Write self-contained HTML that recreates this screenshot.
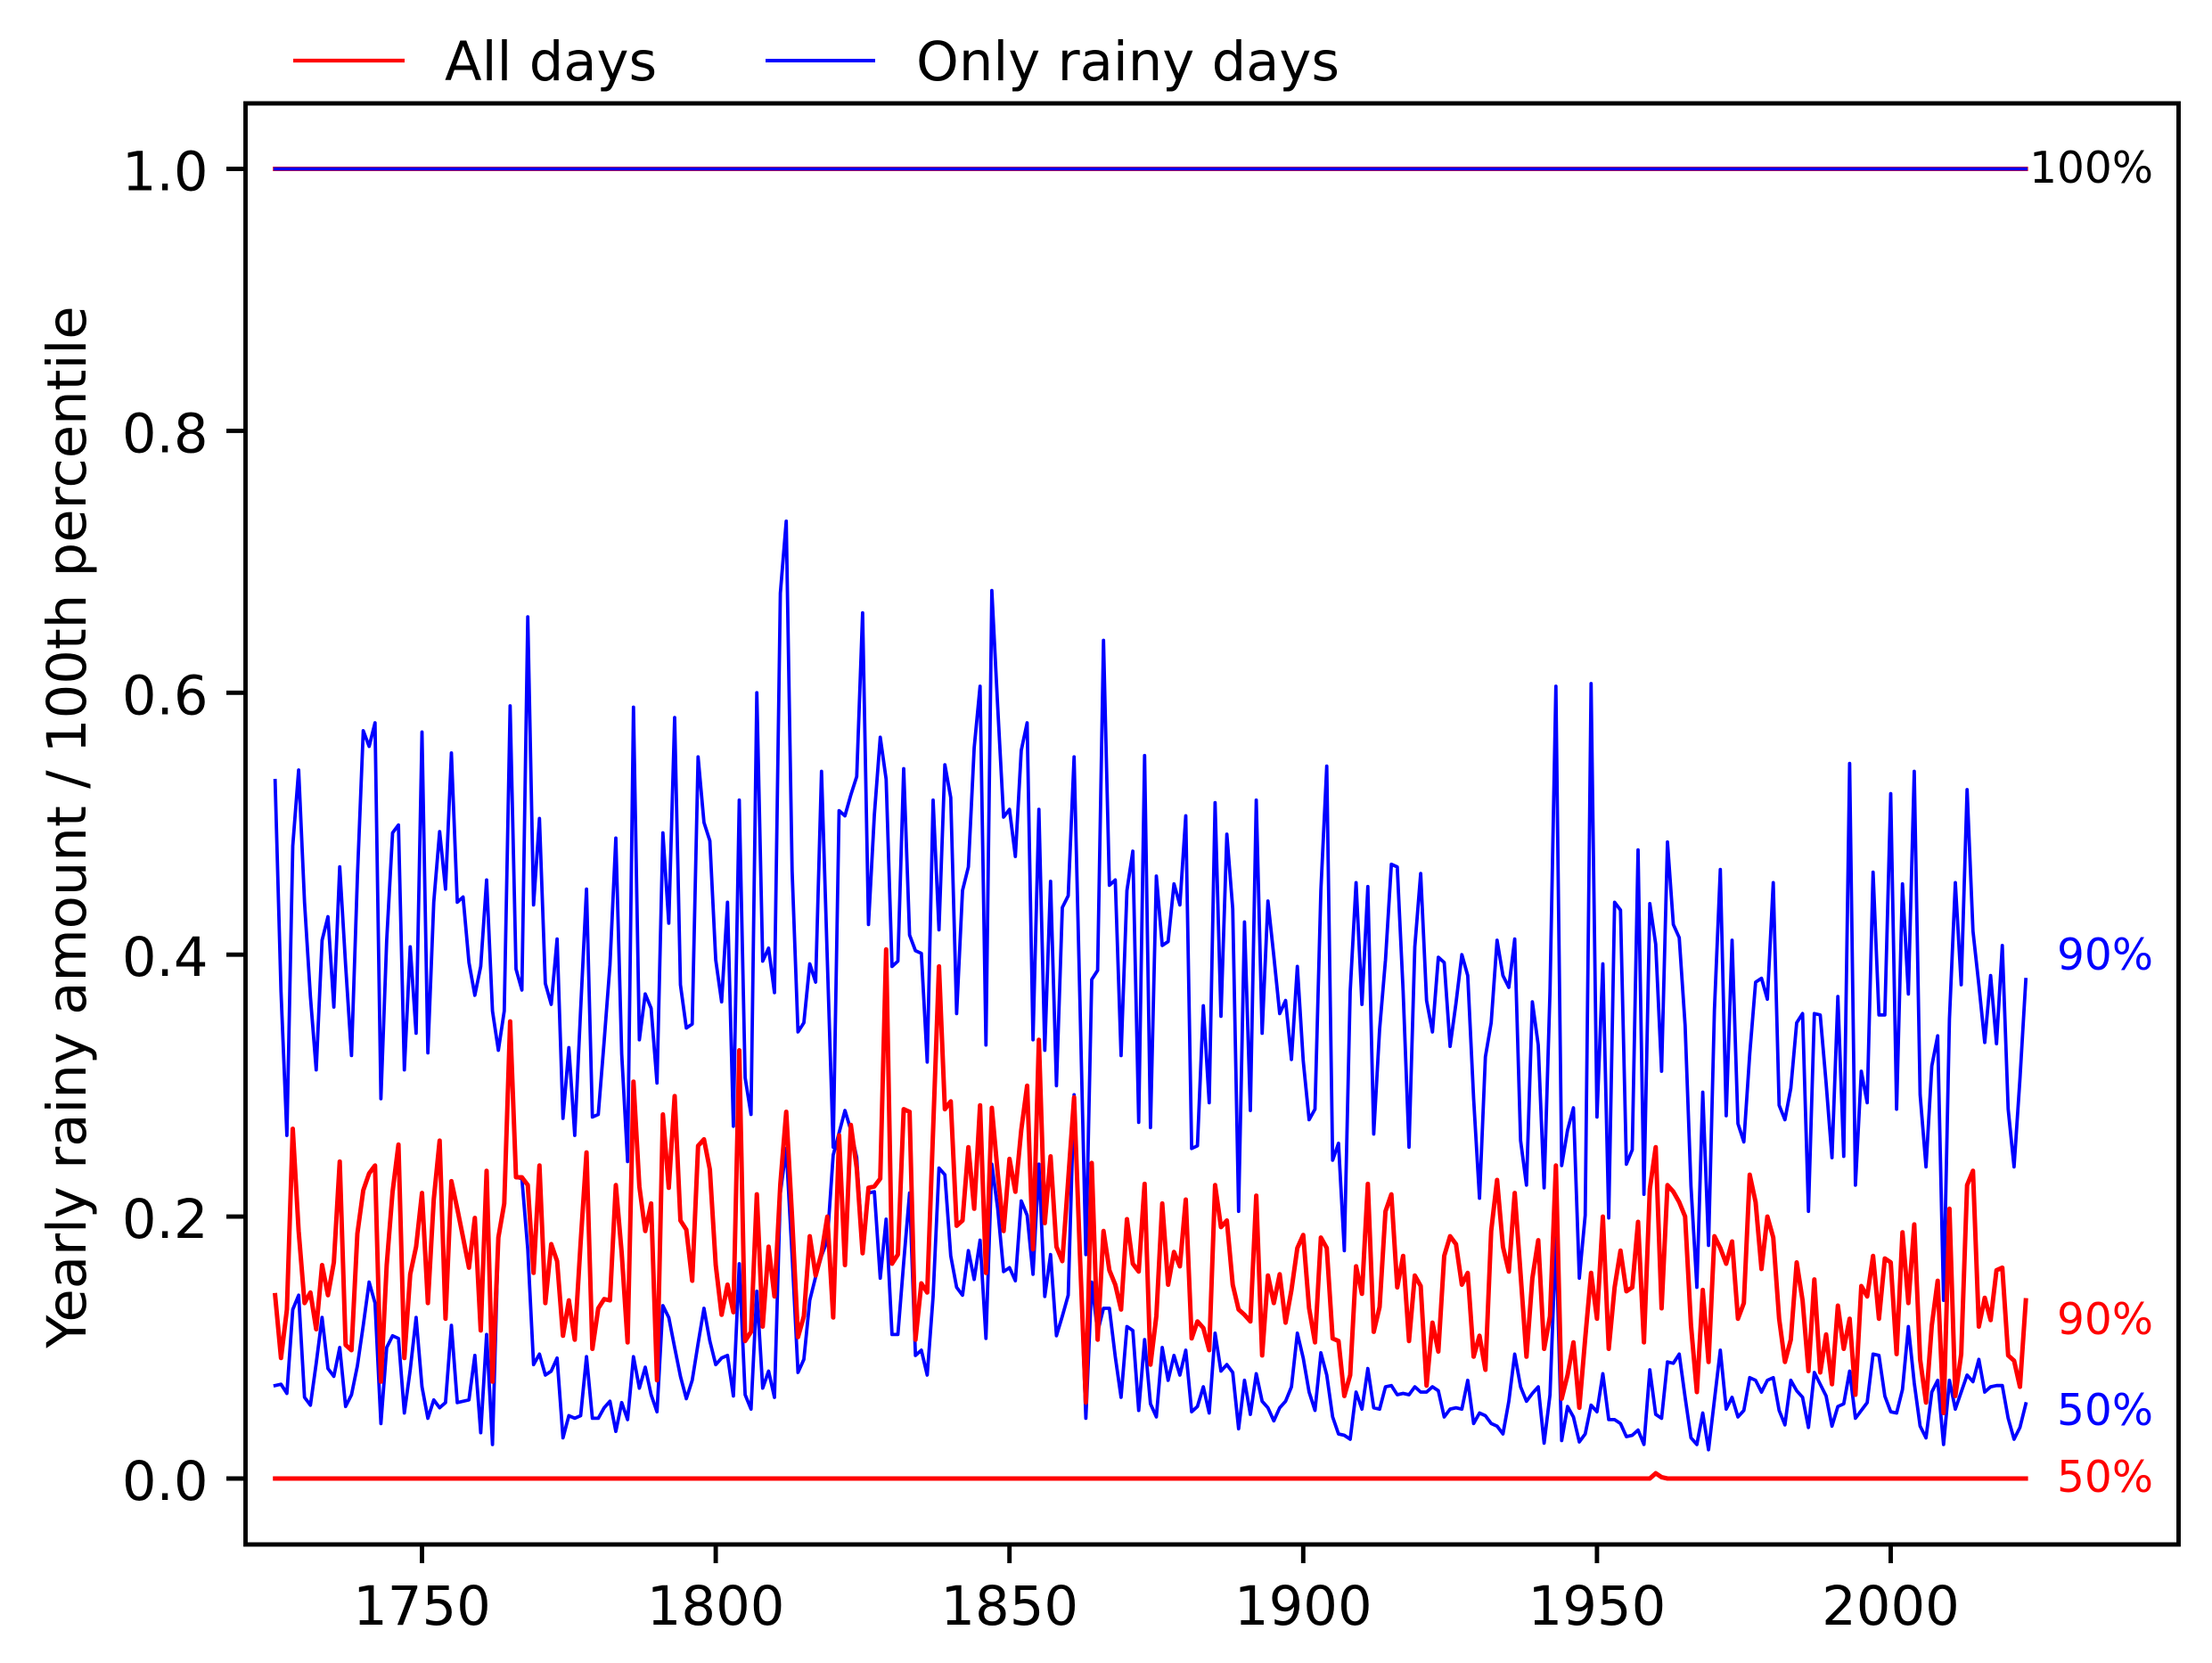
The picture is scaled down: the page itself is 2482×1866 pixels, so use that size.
<!DOCTYPE html>
<html lang="en">
<head>
<meta charset="utf-8">
<title>Yearly rainy amount relative to 100th percentile</title>
<style>
html,body{margin:0;padding:0;background:#fff;}
body{width:2482px;height:1866px;overflow:hidden;}
svg{display:block;font-family:"DejaVu Sans","Liberation Sans",sans-serif;}
</style>
</head>
<body>
<svg id="chart" xmlns="http://www.w3.org/2000/svg" width="2482" height="1866" viewBox="0 0 2482 1866">
  <rect x="0" y="0" width="2482" height="1866" fill="#ffffff"/>
  <g id="series"></g>
  <rect x="275.5" y="116" width="2169" height="1617" fill="none" stroke="#000" stroke-width="4.9"/>
  <g id="xaxis"></g>
  <g id="yaxis"></g>
  <text transform="translate(96,928) rotate(-90)" text-anchor="middle" font-size="60.8" fill="#000">Yearly rainy amount / 100th percentile</text>
  <g>
    <line x1="329" x2="454" y1="68" y2="68" stroke="#ff0000" stroke-width="4.2"/>
    <text x="499" y="90" font-size="60.8" fill="#000">All days</text>
    <line x1="859" x2="982" y1="68" y2="68" stroke="#0000ff" stroke-width="4"/>
    <text x="1028" y="90" font-size="60.8" fill="#000">Only rainy days</text>
  </g>
  <g>
    <text x="2416" y="205" text-anchor="end" font-size="48.6" fill="#000">100%</text>
    <text x="2416" y="1088" text-anchor="end" font-size="48.6" fill="#0000ff">90%</text>
    <text x="2416" y="1497" text-anchor="end" font-size="48.6" fill="#ff0000">90%</text>
    <text x="2416" y="1599" text-anchor="end" font-size="48.6" fill="#0000ff">50%</text>
    <text x="2416" y="1674" text-anchor="end" font-size="48.6" fill="#ff0000">50%</text>
  </g>
</svg>
<script>
const firstYear = 1725;
const xTickLabels = [1750, 1800, 1850, 1900, 1950, 2000];
const yTickLabels = ["0.0", "0.2", "0.4", "0.6", "0.8", "1.0"];

const rainy90 = [
.533,.372,.262,.483,.541,
.44,.368,.312,.411,.429,.36,.467,.392,.323,.459,
.571,.559,.577,.29,.411,.493,.499,.312,.406,.34,
.57,.325,.44,.494,.45,.554,.44,.444,.394,.369,
.391,.457,.357,.327,.357,.59,.389,.373,.658,.438,
.504,.378,.362,.412,.275,.329,.262,.358,.45,.276,
.278,.334,.392,.489,.324,.242,.589,.335,.37,.359,
.302,.493,.424,.581,.377,.344,.347,.551,.501,.487,
.396,.364,.44,.269,.518,.306,.278,.60,.395,.405,
.371,.676,.731,.464,.341,.348,.393,.379,.54,.396,
.253,.51,.506,.522,.536,.661,.423,.507,.566,.534,
.391,.395,.542,.415,.403,.401,.318,.518,.419,.545,
.52,.355,.449,.467,.558,.605,.331,.678,.589,.505,
.511,.475,.556,.577,.335,.511,.327,.456,.30,.436,
.445,.551,.363,.171,.381,.388,.64,.453,.457,.323,
.449,.479,.272,.552,.268,.46,.407,.41,.454,.438,
.506,.252,.254,.361,.287,.516,.353,.492,.435,.204,
.425,.281,.518,.34,.441,.399,.355,.365,.32,.391,
.319,.274,.282,.449,.544,.243,.256,.174,.372,.455,
.362,.452,.263,.343,.396,.469,.467,.372,.253,.406,
.462,.365,.341,.398,.394,.33,.363,.40,.384,.29,
.214,.322,.348,.411,.384,.375,.412,.258,.224,.364,
.331,.222,.372,.605,.239,.266,.283,.153,.201,.607,
.276,.393,.199,.44,.434,.24,.251,.48,.217,.439,
.408,.311,.486,.423,.413,.346,.223,.146,.295,.178,
.358,.465,.277,.411,.271,.257,.324,.379,.382,.366,
.455,.285,.274,.298,.348,.355,.204,.355,.354,.302,
.245,.368,.246,.546,.224,.311,.287,.463,.354,.354,
.523,.282,.454,.37,.54,.293,.238,.315,.338,.136,
.351,.455,.377,.526,.418,.377,.333,.384,.332,.407,
.282,.238,.305,.381];

const rainy50 = [
.071,.072,.065,.129,.14,
.062,.056,.088,.123,.084,.078,.1,.055,.064,.086,
.117,.15,.134,.042,.1,.109,.107,.05,.083,.123,
.07,.046,.06,.054,.058,.117,.058,.059,.06,.094,
.035,.11,.026,.184,.21,.349,.23,.229,.175,.087,
.095,.079,.082,.092,.031,.048,.046,.048,.093,.046,
.046,.054,.059,.036,.058,.045,.093,.069,.085,.064,
.051,.132,.123,.1,.078,.061,.075,.103,.13,.105,
.087,.092,.094,.063,.164,.064,.053,.143,.069,.082,
.062,.218,.252,.17,.081,.091,.136,.154,.17,.182,
.247,.264,.281,.266,.245,.175,.218,.219,.153,.198,
.11,.11,.165,.218,.094,.098,.079,.139,.237,.232,
.17,.146,.14,.174,.152,.182,.107,.24,.206,.158,
.161,.151,.212,.201,.156,.24,.139,.171,.109,.124,
.14,.293,.17,.046,.15,.112,.13,.13,.093,.062,
.116,.113,.052,.106,.057,.047,.1,.075,.094,.079,
.098,.051,.055,.07,.05,.111,.082,.087,.081,.038,
.075,.049,.08,.059,.054,.044,.054,.059,.07,.111,
.092,.066,.052,.096,.079,.047,.034,.033,.03,.066,
.053,.084,.054,.053,.07,.071,.064,.065,.064,.07,
.066,.066,.07,.067,.047,.053,.054,.053,.075,.042,
.05,.048,.042,.04,.034,.059,.095,.07,.059,.065,
.07,.027,.064,.184,.029,.055,.047,.028,.034,.056,
.051,.08,.045,.045,.042,.032,.033,.037,.026,.083,
.049,.046,.089,.088,.095,.062,.031,.026,.05,.022,
.06,.098,.053,.062,.047,.052,.077,.075,.066,.075,
.077,.052,.041,.075,.067,.062,.039,.081,.072,.063,
.04,.055,.057,.082,.046,.052,.058,.095,.094,.063,
.051,.05,.068,.116,.073,.04,.031,.066,.075,.026,
.075,.053,.066,.079,.074,.091,.066,.07,.071,.071,
.046,.03,.039,.057];

const allDays90 = [
.14,.092,.129,.267,.189,
.134,.142,.114,.163,.14,.165,.242,.102,.098,.187,
.22,.233,.239,.074,.163,.219,.255,.092,.156,.177,
.218,.134,.213,.258,.122,.227,.206,.184,.161,.199,
.113,.235,.074,.184,.21,.349,.23,.23,.224,.157,
.239,.134,.179,.166,.109,.136,.106,.18,.249,.099,
.13,.137,.136,.224,.172,.104,.303,.223,.189,.21,
.075,.278,.222,.292,.197,.19,.151,.254,.259,.236,
.163,.125,.148,.127,.327,.105,.112,.217,.116,.177,
.139,.225,.28,.199,.108,.124,.185,.155,.172,.2,
.123,.262,.163,.27,.237,.172,.222,.223,.229,.404,
.164,.171,.282,.28,.106,.149,.142,.266,.391,.282,
.288,.193,.197,.253,.206,.285,.157,.283,.233,.189,
.244,.219,.266,.30,.175,.335,.195,.246,.177,.166,
.228,.291,.17,.058,.241,.106,.189,.159,.148,.129,
.198,.164,.158,.225,.087,.124,.21,.148,.173,.162,
.213,.107,.12,.115,.098,.224,.192,.197,.148,.129,
.125,.12,.216,.094,.155,.134,.156,.119,.144,.176,
.186,.13,.104,.184,.176,.107,.105,.063,.079,.162,
.141,.225,.112,.131,.204,.217,.146,.17,.105,.155,
.147,.071,.119,.097,.17,.185,.179,.148,.157,.093,
.109,.083,.189,.228,.177,.158,.218,.156,.093,.153,
.182,.099,.124,.239,.061,.079,.104,.054,.107,.157,
.122,.2,.099,.146,.174,.143,.146,.196,.104,.221,
.253,.13,.224,.219,.211,.2,.117,.066,.144,.089,
.185,.176,.164,.181,.122,.134,.232,.211,.16,.2,
.184,.122,.089,.106,.165,.136,.082,.152,.081,.11,
.072,.132,.099,.122,.064,.147,.139,.17,.122,.168,
.165,.095,.188,.134,.194,.091,.058,.117,.151,.05,
.206,.063,.095,.224,.235,.116,.138,.121,.159,.161,
.094,.09,.07,.136];

const allDays50 = [
0,0,0,0,0,
0,0,0,0,0,0,0,0,0,0,
0,0,0,0,0,0,0,0,0,0,
0,0,0,0,0,0,0,0,0,0,
0,0,0,0,0,0,0,0,0,0,
0,0,0,0,0,0,0,0,0,0,
0,0,0,0,0,0,0,0,0,0,
0,0,0,0,0,0,0,0,0,0,
0,0,0,0,0,0,0,0,0,0,
0,0,0,0,0,0,0,0,0,0,
0,0,0,0,0,0,0,0,0,0,
0,0,0,0,0,0,0,0,0,0,
0,0,0,0,0,0,0,0,0,0,
0,0,0,0,0,0,0,0,0,0,
0,0,0,0,0,0,0,0,0,0,
0,0,0,0,0,0,0,0,0,0,
0,0,0,0,0,0,0,0,0,0,
0,0,0,0,0,0,0,0,0,0,
0,0,0,0,0,0,0,0,0,0,
0,0,0,0,0,0,0,0,0,0,
0,0,0,0,0,0,0,0,0,0,
0,0,0,0,0,0,0,0,0,0,
0,0,0,0,0,0,0,0,0,0,
0,0,0,0,0,0,0,0,0,0,
.004,.001,0,0,0,0,0,0,0,0,
0,0,0,0,0,0,0,0,0,0,
0,0,0,0,0,0,0,0,0,0,
0,0,0,0,0,0,0,0,0,0,
0,0,0,0,0,0,0,0,0,0,
0,0,0,0,0,0,0,0,0,0,
0,0,0,0];

const allDays100 = [
1,1,1,1,1,
1,1,1,1,1,1,1,1,1,1,
1,1,1,1,1,1,1,1,1,1,
1,1,1,1,1,1,1,1,1,1,
1,1,1,1,1,1,1,1,1,1,
1,1,1,1,1,1,1,1,1,1,
1,1,1,1,1,1,1,1,1,1,
1,1,1,1,1,1,1,1,1,1,
1,1,1,1,1,1,1,1,1,1,
1,1,1,1,1,1,1,1,1,1,
1,1,1,1,1,1,1,1,1,1,
1,1,1,1,1,1,1,1,1,1,
1,1,1,1,1,1,1,1,1,1,
1,1,1,1,1,1,1,1,1,1,
1,1,1,1,1,1,1,1,1,1,
1,1,1,1,1,1,1,1,1,1,
1,1,1,1,1,1,1,1,1,1,
1,1,1,1,1,1,1,1,1,1,
1,1,1,1,1,1,1,1,1,1,
1,1,1,1,1,1,1,1,1,1,
1,1,1,1,1,1,1,1,1,1,
1,1,1,1,1,1,1,1,1,1,
1,1,1,1,1,1,1,1,1,1,
1,1,1,1,1,1,1,1,1,1,
1,1,1,1,1,1,1,1,1,1,
1,1,1,1,1,1,1,1,1,1,
1,1,1,1,1,1,1,1,1,1,
1,1,1,1,1,1,1,1,1,1,
1,1,1,1,1,1,1,1,1,1,
1,1,1,1,1,1,1,1,1,1,
1,1,1,1];

const rainy100 = allDays100.slice();

const SVG_NS = "http://www.w3.org/2000/svg";
function xScale(year) { return 473.5 + (year - 1750) * 6.592; }
function yScale(value) { return 1659 - value * 1469.5; }

function makeLine(values, color, width, name, parent) {
  const line = document.createElementNS(SVG_NS, "polyline");
  const pts = values.map(function (v, i) {
    return xScale(firstYear + i).toFixed(1) + "," + yScale(v).toFixed(1);
  });
  line.setAttribute("points", pts.join(" "));
  line.setAttribute("fill", "none");
  line.setAttribute("stroke", color);
  line.setAttribute("stroke-width", width);
  line.setAttribute("stroke-linejoin", "round");
  line.setAttribute("stroke-linecap", "square");
  
  
  parent.appendChild(line);
}

const seriesGroup = document.getElementById("series");
makeLine(allDays100, "#ff0000", 5, "line-all-days-100", seriesGroup);
makeLine(rainy100, "#0000ff", 3.8, "line-rainy-100", seriesGroup);
makeLine(rainy90, "#0000ff", 3.8, "line-rainy-90", seriesGroup);
makeLine(rainy50, "#0000ff", 3.8, "line-rainy-50", seriesGroup);
makeLine(allDays90, "#ff0000", 5, "line-all-days-90", seriesGroup);
makeLine(allDays50, "#ff0000", 5, "line-all-days-50", seriesGroup);

const xAxis = document.getElementById("xaxis");
xTickLabels.forEach(function (year) {
  const x = xScale(year);
  const tick = document.createElementNS(SVG_NS, "line");
  tick.setAttribute("x1", x);
  tick.setAttribute("x2", x);
  tick.setAttribute("y1", 1733);
  tick.setAttribute("y2", 1754);
  tick.setAttribute("stroke", "#000");
  tick.setAttribute("stroke-width", 4.9);
  
  
  xAxis.appendChild(tick);
  const label = document.createElementNS(SVG_NS, "text");
  label.setAttribute("x", x);
  label.setAttribute("y", 1823);
  label.setAttribute("text-anchor", "middle");
  label.setAttribute("font-size", 60.8);
  label.setAttribute("fill", "#000");
  
  
  label.textContent = year;
  xAxis.appendChild(label);
});

const yAxis = document.getElementById("yaxis");
yTickLabels.forEach(function (text) {
  const y = yScale(parseFloat(text));
  const tick = document.createElementNS(SVG_NS, "line");
  tick.setAttribute("x1", 254);
  tick.setAttribute("x2", 275.5);
  tick.setAttribute("y1", y);
  tick.setAttribute("y2", y);
  tick.setAttribute("stroke", "#000");
  tick.setAttribute("stroke-width", 4.9);
  
  
  yAxis.appendChild(tick);
  const label = document.createElementNS(SVG_NS, "text");
  label.setAttribute("x", 233.5);
  label.setAttribute("y", y + 24);
  label.setAttribute("text-anchor", "end");
  label.setAttribute("font-size", 60.8);
  label.setAttribute("fill", "#000");
  
  
  label.textContent = text;
  yAxis.appendChild(label);
});
</script>
</body>
</html>
